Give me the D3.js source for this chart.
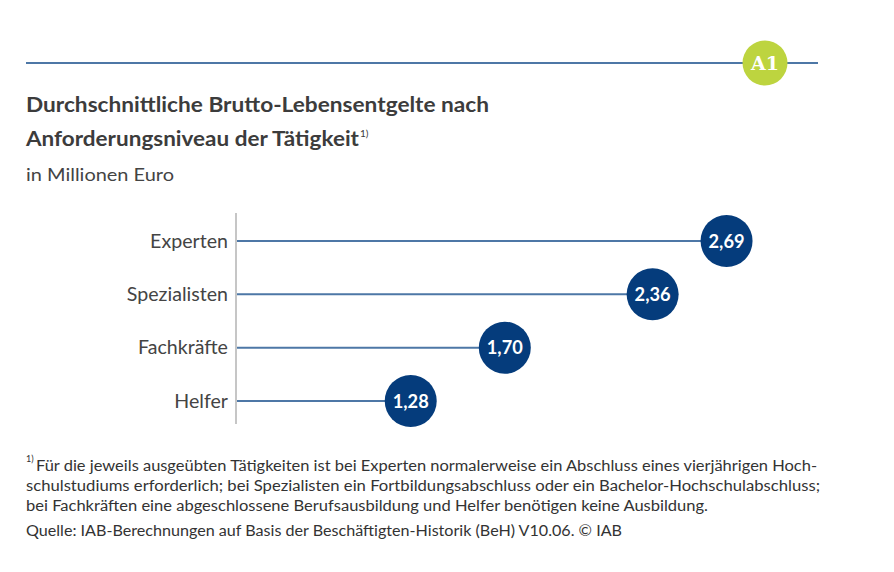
<!DOCTYPE html>
<html>
<head>
<meta charset="utf-8">
<script src="https://cdn.jsdelivr.net/npm/d3@7"></script>
<style>
  body { margin: 0; background: #fff; }
  text { font-family: "Lato", "Noto Sans", sans-serif; }
</style>
</head>
<body>
<div id="chart"></div>
<script>
const categories = ['Experten', 'Spezialisten', 'Fachkräfte', 'Helfer'];
const values = [2.69, 2.36, 1.70, 1.28];
const valueLabels = ['2,69', '2,36', '1,70', '1,28'];
const titleLines = ['Durchschnittliche Brutto-Lebensentgelte nach', 'Anforderungsniveau der Tätigkeit'];
const subtitle = 'in Millionen Euro';
const noteLines = [
  'Für die jeweils ausgeübten Tätigkeiten ist bei Experten normalerweise ein Abschluss eines vierjährigen Hoch-',
  'schulstudiums erforderlich; bei Spezialisten ein Fortbildungsabschluss oder ein Bachelor-Hochschulabschluss;',
  'bei Fachkräften eine abgeschlossene Berufsausbildung und Helfer benötigen keine Ausbildung.'
];
const source = 'Quelle: IAB-Berechnungen auf Basis der Beschäftigten-Historik (BeH) V10.06.  © IAB';

(function() {
  let width = 894;
  let height = 572;
  let svg = d3.select('#chart')
    .append('svg')
    .attr('width', width)
    .attr('height', height);

  // fit a text element to a target width
  function fit(sel, w) {
    sel.attr('textLength', w).attr('lengthAdjust', 'spacingAndGlyphs');
  }
  // widen text a little, the original face is taller per width
  function stretch(sel, k) {
    sel.each(function() {
      let w = this.getComputedTextLength();
      d3.select(this).attr('textLength', w * k).attr('lengthAdjust', 'spacingAndGlyphs');
    });
  }

  // header rule + badge
  svg.append('line')
    .attr('x1', 26).attr('x2', 818).attr('y1', 63).attr('y2', 63)
    .attr('stroke', '#4d77a6').attr('stroke-width', 2);
  svg.append('circle')
    .attr('cx', 765).attr('cy', 63).attr('r', 22.5)
    .attr('fill', '#bdd43f');
  svg.append('text')
    .attr('x', 765).attr('y', 70)
    .attr('text-anchor', 'middle')
    .style('font-family', '"DejaVu Serif", serif')
    .attr('font-weight', 'bold').attr('font-size', 19)
    .attr('fill', '#fff')
    .text('A1');

  // title
  let tw = [463, 333];
  titleLines.forEach((t, i) => {
    svg.append('text')
      .attr('x', 26).attr('y', 112 + i * 34)
      .attr('font-size', 21.5).attr('font-weight', 'bold')
      .attr('fill', '#3c3c3c')
      .text(t)
      .call(fit, tw[i]);
  });
  svg.append('text')
    .attr('x', 360).attr('y', 137)
    .attr('font-size', 10).attr('fill', '#3c3c3c')
    .text('1)');
  svg.append('text')
    .attr('x', 26).attr('y', 181)
    .attr('font-size', 18).attr('fill', '#444')
    .text(subtitle)
    .call(fit, 148);

  // chart
  let x = d3.scaleLinear().domain([0.5, 3]).range([236, 796]);
  let y = d3.scalePoint().domain(categories).range([241, 401]);

  svg.append('line')
    .attr('x1', 236).attr('x2', 236).attr('y1', 213).attr('y2', 424)
    .attr('stroke', '#b3b3b3').attr('stroke-width', 1.5);

  let rows = svg.selectAll('.row')
    .data(categories.map((c, i) => ({ cat: c, value: values[i], label: valueLabels[i] })))
    .enter().append('g')
    .attr('class', 'row');

  rows.append('line')
    .attr('x1', 237)
    .attr('x2', d => x(d.value))
    .attr('y1', d => y(d.cat))
    .attr('y2', d => y(d.cat))
    .attr('stroke', '#4d77a6')
    .attr('stroke-width', 2);

  rows.append('text')
    .attr('x', 228)
    .attr('y', d => y(d.cat) + 6.5)
    .attr('text-anchor', 'end')
    .attr('font-size', 18.5)
    .attr('fill', '#444')
    .text(d => d.cat)
    .call(stretch, 1.06);

  rows.append('circle')
    .attr('cx', d => x(d.value))
    .attr('cy', d => y(d.cat))
    .attr('r', 26)
    .attr('fill', '#053c7c');

  rows.append('text')
    .attr('x', d => x(d.value))
    .attr('y', d => y(d.cat) + 6.5)
    .attr('text-anchor', 'middle')
    .attr('font-size', 18)
    .attr('font-weight', 'bold')
    .attr('fill', '#fff')
    .text(d => d.label)
    .call(fit, 36);

  // footnotes
  svg.append('text')
    .attr('x', 26).attr('y', 462)
    .attr('font-size', 9).attr('fill', '#333')
    .text('1)');
  let nx = [36, 26, 26];
  let nw = [781, 794, 682];
  noteLines.forEach((t, i) => {
    svg.append('text')
      .attr('x', nx[i]).attr('y', 471 + i * 20)
      .attr('font-size', 15.5).attr('fill', '#333')
      .text(t)
      .call(fit, nw[i]);
  });
  svg.append('text')
    .attr('x', 26).attr('y', 536)
    .attr('font-size', 15.5).attr('fill', '#333')
    .text(source)
    .call(fit, 596);
})();
</script>
</body>
</html>
